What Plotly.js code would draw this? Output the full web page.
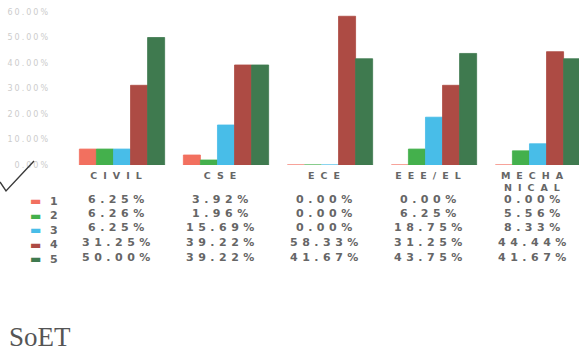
<!DOCTYPE html>
<html>
<head>
<meta charset="utf-8">
<script src="https://cdn.plot.ly/plotly-3.0.1.min.js"></script>
<style>
  html, body { margin: 0; padding: 0; background: #fff; }
  #chart { width: 579px; height: 351px; }
  .xtick text { letter-spacing: 6px; }
  .ytick text { letter-spacing: 2px; }
  .annotation-text { letter-spacing: 4.5px; }
</style>
</head>
<body>
<div id="chart"></div>
<script>
// ---- data ----
const categories = ["CIVIL", "CSE", "ECE", "EEE/EL", "MECHANICAL"];
const tickLabels = ["CIVIL", "CSE", "ECE", "EEE/EL", "MECHA<br>NICAL"];
const seriesNames = ["1", "2", "3", "4", "5"];
const series1 = [6.25, 3.92, 0.00, 0.00, 0.00];
const series2 = [6.26, 1.96, 0.00, 6.25, 5.56];
const series3 = [6.25, 15.69, 0.00, 18.75, 8.33];
const series4 = [31.25, 39.22, 58.33, 31.25, 44.44];
const series5 = [50.00, 39.22, 41.67, 43.75, 41.67];
const yTickValues = [0, 10, 20, 30, 40, 50, 60];
const yTickLabels = ["0.00%", "10.00%", "20.00%", "30.00%", "40.00%", "50.00%", "60.00%"];

// ---- styling ----
const allSeries = [series1, series2, series3, series4, series5];
const colors = ["#f2705f", "#44b04c", "#48bde8", "#ad4b44", "#3f7a4f"];
const W = 579, H = 351;
const M = {l: 70, r: 0, t: 12, b: 186};
const plotW = W - M.l - M.r, plotH = H - M.t - M.b;
const px2x = p => (p - M.l) / plotW;
const px2y = p => (H - M.b - p) / plotH;

const traces = allSeries.map((vals, i) => ({
  type: "bar",
  name: seriesNames[i],
  x: categories,
  y: vals,
  marker: {color: colors[i], line: {color: colors[i], width: 0.8}},
  showlegend: false,
  hoverinfo: "skip"
}));

const tableFont = {family: "DejaVu Sans", size: 11, color: "#666666", weight: "bold"};
const rowY = [199, 213.5, 228, 242.5, 257];
const annotations = [];
allSeries.forEach((vals, i) => {
  // legend key
  annotations.push({
    xref: "paper", yref: "paper", x: px2x(38), y: px2y(rowY[i] + 2),
    text: "▬", showarrow: false, xanchor: "center", yanchor: "middle",
    font: {family: "DejaVu Sans", size: 12, color: colors[i]}
  });
  annotations.push({
    xref: "paper", yref: "paper", x: px2x(56), y: px2y(rowY[i] + 2),
    text: seriesNames[i], showarrow: false, xanchor: "center", yanchor: "middle",
    font: tableFont
  });
  vals.forEach((v, j) => {
    annotations.push({
      xref: "x", yref: "paper", x: categories[j], y: px2y(rowY[i]),
      xshift: -4, text: v.toFixed(2) + "%", showarrow: false,
      xanchor: "center", yanchor: "middle", font: tableFont
    });
  });
});

const layout = {
  width: W, height: H,
  margin: M,
  paper_bgcolor: "#ffffff",
  plot_bgcolor: "#ffffff",
  barmode: "group",
  bargap: 0.18,
  bargroupgap: 0,
  title: {
    text: "SoET",
    font: {family: "Liberation Serif", size: 27, color: "#555555"},
    xref: "container", yref: "container",
    x: 9 / W, xanchor: "left",
    y: 1 - 337 / H, yanchor: "middle"
  },
  xaxis: {
    type: "category",
    range: [-0.5, -0.5 + plotW / 104],
    tickvals: categories,
    ticktext: tickLabels,
    showgrid: false, zeroline: false, showline: false,
    ticks: "", ticklabelshift: -3, ticklabelstandoff: 3,
    tickfont: {family: "DejaVu Sans", size: 9.5, color: "#666666", weight: "bold"}
  },
  yaxis: {
    range: [0, 60],
    tickvals: yTickValues,
    ticktext: yTickLabels,
    showgrid: false, zeroline: false, showline: false,
    ticks: "", ticklabelstandoff: 19,
    tickfont: {family: "DejaVu Sans", size: 8, color: "#cccccc"}
  },
  annotations: annotations,
  shapes: [{
    type: "path", xref: "paper", yref: "paper",
    path: `M ${px2x(0)},${px2y(182)} L ${px2x(6)},${px2y(191)} L ${px2x(34)},${px2y(161)}`,
    line: {color: "#3a3a3a", width: 1.4}
  }]
};

Plotly.newPlot("chart", traces, layout, {staticPlot: true, displayModeBar: false});
</script>
</body>
</html>
